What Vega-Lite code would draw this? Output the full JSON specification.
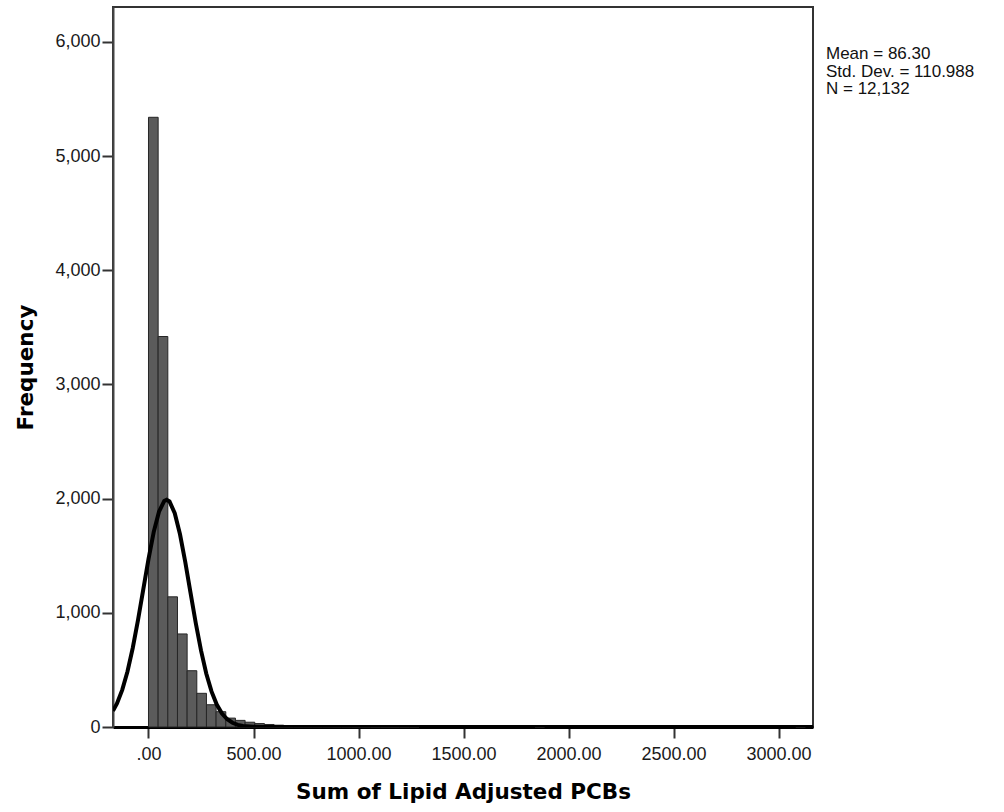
{
  "$schema": "https://vega.github.io/schema/vega-lite/v6.json",
  "width": 700,
  "height": 720,
  "autosize": {"type": "none"},
  "padding": {"left": 113, "top": 7, "right": 191, "bottom": 85},
  "background": "white",
  "title": {
    "text": ["Mean = 86.30", "Std. Dev. = 110.988", "N = 12,132"],
    "orient": "top",
    "anchor": "start",
    "frame": "group",
    "baseline": "top",
    "offset": 0,
    "dx": 713,
    "dy": 91,
    "font": "Liberation Sans",
    "fontSize": 17,
    "fontWeight": "normal",
    "lineHeight": 17.5,
    "color": "#111111"
  },
  "config": {
    "view": {"stroke": "#333333", "strokeWidth": 2},
    "axis": {
      "grid": false,
      "labelFont": "Liberation Sans",
      "labelFontSize": 18,
      "labelColor": "#1a1a1a",
      "tickColor": "#333333",
      "tickWidth": 2,
      "titleFont": "DejaVu Sans",
      "titleFontWeight": "bold",
      "titleFontSize": 21.5,
      "titleColor": "#000000"
    }
  },
  "datasets": {
    "bars": [
      {"bin_start": 0, "bin_end": 46, "count": 5340},
      {"bin_start": 46, "bin_end": 92, "count": 3420},
      {"bin_start": 92, "bin_end": 138, "count": 1140},
      {"bin_start": 138, "bin_end": 184, "count": 815},
      {"bin_start": 184, "bin_end": 230, "count": 493},
      {"bin_start": 230, "bin_end": 276, "count": 295},
      {"bin_start": 276, "bin_end": 322, "count": 195},
      {"bin_start": 322, "bin_end": 368, "count": 134},
      {"bin_start": 368, "bin_end": 414, "count": 78},
      {"bin_start": 414, "bin_end": 460, "count": 58},
      {"bin_start": 460, "bin_end": 506, "count": 42},
      {"bin_start": 506, "bin_end": 552, "count": 30},
      {"bin_start": 552, "bin_end": 598, "count": 22},
      {"bin_start": 598, "bin_end": 644, "count": 16},
      {"bin_start": 644, "bin_end": 690, "count": 12},
      {"bin_start": 690, "bin_end": 736, "count": 9},
      {"bin_start": 736, "bin_end": 782, "count": 7},
      {"bin_start": 782, "bin_end": 828, "count": 5},
      {"bin_start": 828, "bin_end": 874, "count": 4},
      {"bin_start": 874, "bin_end": 920, "count": 3},
      {"bin_start": 920, "bin_end": 966, "count": 3},
      {"bin_start": 966, "bin_end": 1012, "count": 2},
      {"bin_start": 1012, "bin_end": 1058, "count": 2},
      {"bin_start": 1058, "bin_end": 1104, "count": 1},
      {"bin_start": 1104, "bin_end": 1150, "count": 1},
      {"bin_start": 1150, "bin_end": 1196, "count": 1},
      {"bin_start": 1196, "bin_end": 1242, "count": 1},
      {"bin_start": 1242, "bin_end": 1288, "count": 1},
      {"bin_start": 1840, "bin_end": 1886, "count": 1},
      {"bin_start": 3082, "bin_end": 3128, "count": 1}
    ],
    "curve": [
      {"x": -169, "y": 141},
      {"x": -150, "y": 206},
      {"x": -125, "y": 325},
      {"x": -100, "y": 486},
      {"x": -75, "y": 692},
      {"x": -50, "y": 936},
      {"x": -25, "y": 1203},
      {"x": 0, "y": 1471},
      {"x": 25, "y": 1709},
      {"x": 50, "y": 1886},
      {"x": 75, "y": 1980},
      {"x": 86.3, "y": 1990},
      {"x": 100, "y": 1975},
      {"x": 125, "y": 1873},
      {"x": 150, "y": 1688},
      {"x": 175, "y": 1446},
      {"x": 200, "y": 1177},
      {"x": 225, "y": 911},
      {"x": 250, "y": 671},
      {"x": 275, "y": 469},
      {"x": 300, "y": 312},
      {"x": 325, "y": 197},
      {"x": 350, "y": 118},
      {"x": 375, "y": 68},
      {"x": 400, "y": 37},
      {"x": 425, "y": 19},
      {"x": 450, "y": 9},
      {"x": 500, "y": 2},
      {"x": 550, "y": 0},
      {"x": 3164, "y": 0}
    ]
  },
  "layer": [
    {
      "data": {"name": "bars"},
      "mark": {"type": "rect", "fill": "#5b5b5b", "stroke": "#262626", "strokeWidth": 1},
      "encoding": {
        "x": {
          "field": "bin_start",
          "type": "quantitative",
          "scale": {"domain": [-169, 3164], "nice": false, "zero": false},
          "axis": {
            "title": "Sum of Lipid Adjusted PCBs",
            "values": [0, 500, 1000, 1500, 2000, 2500, 3000],
            "labelExpr": "datum.value == 0 ? '.00' : format(datum.value, '.2f')",
            "tickSize": 11,
            "labelPadding": 7,
            "domainColor": "#000000",
            "domainWidth": 3,
            "titleY": 71,
            "titleBaseline": "alphabetic"
          }
        },
        "x2": {"field": "bin_end"},
        "y": {
          "field": "count",
          "type": "quantitative",
          "scale": {"domain": [0, 6306], "nice": false},
          "axis": {
            "title": "Frequency",
            "values": [0, 1000, 2000, 3000, 4000, 5000, 6000],
            "format": ",d",
            "tickSize": 11,
            "labelPadding": 2,
            "domainColor": "#444444",
            "domainWidth": 2,
            "titleX": -81,
            "titleBaseline": "alphabetic"
          }
        },
        "y2": {"datum": 0}
      }
    },
    {
      "data": {"name": "curve"},
      "mark": {"type": "line", "color": "#000000", "strokeWidth": 4, "clip": true},
      "encoding": {
        "x": {"field": "x", "type": "quantitative"},
        "y": {"field": "y", "type": "quantitative"}
      }
    }
  ]
}
